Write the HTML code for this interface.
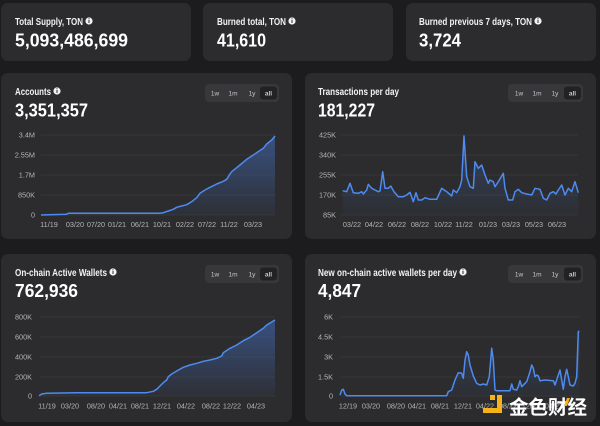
<!DOCTYPE html>
<html><head><meta charset="utf-8"><style>
html,body{margin:0;padding:0;background:#1c1c1e;}
svg{display:block;}
.t{font-family:"Liberation Sans",sans-serif;font-weight:bold;fill:#f2f2f2;}
.n{font-family:"Liberation Sans",sans-serif;font-weight:bold;fill:#ffffff;}
.ax{font-family:"Liberation Sans",sans-serif;font-size:7.3px;fill:#b4b4b8;}
.b{font-family:"Liberation Sans",sans-serif;font-size:6.5px;fill:#c8c8cc;text-anchor:middle;}
.g{stroke:#3a3a3e;stroke-width:0.7;}
.ln{fill:none;stroke:#4d8bf0;stroke-width:1.5;stroke-linejoin:round;}
</style></head><body>
<svg width="600" height="426" viewBox="0 0 600 426" xmlns="http://www.w3.org/2000/svg">
<defs>
<linearGradient id="fa" x1="0" y1="0" x2="0" y2="1">
<stop offset="0" stop-color="#3d5d9a" stop-opacity="0.75"/>
<stop offset="1" stop-color="#3d5d9a" stop-opacity="0.08"/>
</linearGradient>
<linearGradient id="fb" x1="0" y1="0" x2="0" y2="1">
<stop offset="0" stop-color="#3d5d9a" stop-opacity="0.45"/>
<stop offset="1" stop-color="#3d5d9a" stop-opacity="0.05"/>
</linearGradient>
</defs>
<rect width="600" height="426" fill="#1c1c1e"/>

<!-- top cards -->
<rect x="1" y="3" width="190" height="58" rx="7" fill="#2c2c2e"/>
<rect x="203" y="3" width="190" height="58" rx="7" fill="#2c2c2e"/>
<rect x="406" y="3" width="190" height="58" rx="7" fill="#2c2c2e"/>

<text class="t" x="15" y="24.8" font-size="10.5" textLength="68" lengthAdjust="spacingAndGlyphs">Total Supply, TON</text>
<circle cx="89" cy="21" r="3.6" fill="#f2f2f2"/><rect x="88.5" y="20" width="1" height="3" fill="#2c2c2e"/><rect x="88.5" y="18.3" width="1" height="1" fill="#2c2c2e"/>
<text class="n" x="15" y="46.5" font-size="18" textLength="113" lengthAdjust="spacingAndGlyphs">5,093,486,699</text>

<text class="t" x="217" y="24.8" font-size="10.5" textLength="69" lengthAdjust="spacingAndGlyphs">Burned total, TON</text>
<circle cx="292" cy="21" r="3.6" fill="#f2f2f2"/><rect x="291.5" y="20" width="1" height="3" fill="#2c2c2e"/><rect x="291.5" y="18.3" width="1" height="1" fill="#2c2c2e"/>
<text class="n" x="217" y="46.5" font-size="18" textLength="49" lengthAdjust="spacingAndGlyphs">41,610</text>

<text class="t" x="419" y="24.8" font-size="10.5" textLength="113" lengthAdjust="spacingAndGlyphs">Burned previous 7 days, TON</text>
<circle cx="538" cy="21" r="3.6" fill="#f2f2f2"/><rect x="537.5" y="20" width="1" height="3" fill="#2c2c2e"/><rect x="537.5" y="18.3" width="1" height="1" fill="#2c2c2e"/>
<text class="n" x="419" y="46.5" font-size="18" textLength="42" lengthAdjust="spacingAndGlyphs">3,724</text>

<!-- middle cards -->
<rect x="1" y="73" width="291" height="166" rx="7" fill="#2c2c2e"/>
<rect x="305" y="73" width="291" height="166" rx="7" fill="#2c2c2e"/>
<!-- bottom cards -->
<rect x="1" y="254" width="291" height="168" rx="7" fill="#2c2c2e"/>
<rect x="305" y="254" width="291" height="168" rx="7" fill="#2c2c2e"/>

<!-- Accounts -->
<text class="t" x="15" y="94.8" font-size="10.5" textLength="36" lengthAdjust="spacingAndGlyphs">Accounts</text>
<circle cx="57" cy="91" r="3.6" fill="#f2f2f2"/><rect x="56.5" y="90" width="1" height="3" fill="#2c2c2e"/><rect x="56.5" y="88.3" width="1" height="1" fill="#2c2c2e"/>
<text class="n" x="15" y="116.5" font-size="18" textLength="73" lengthAdjust="spacingAndGlyphs">3,351,357</text>
<rect x="205" y="84" width="74" height="18" rx="4" fill="#38383b"/>
<rect x="260" y="86.5" width="17" height="13" rx="3" fill="#222224"/>
<text class="b" x="215" y="95.5">1w</text><text class="b" x="233" y="95.5">1m</text><text class="b" x="252" y="95.5">1y</text><text class="b" x="268.5" y="95.5" fill="#fff" font-weight="bold">all</text>

<line class="g" x1="41" y1="135" x2="275" y2="135"/>
<line class="g" x1="41" y1="155" x2="275" y2="155"/>
<line class="g" x1="41" y1="175" x2="275" y2="175"/>
<line class="g" x1="41" y1="195" x2="275" y2="195"/>
<line class="g" x1="41" y1="215" x2="275" y2="215"/>
<g class="ax" text-anchor="end">
<text x="35" y="137.5">3.4M</text><text x="35" y="157.5">2.55M</text><text x="35" y="177.5">1.7M</text><text x="35" y="197.5">850K</text><text x="35" y="217.5">0</text>
</g>
<g class="ax" text-anchor="middle">
<text x="49" y="227">11/19</text><text x="75" y="227">03/20</text><text x="96" y="227">07/20</text><text x="117" y="227">01/21</text><text x="140" y="227">06/21</text><text x="162" y="227">10/21</text><text x="185" y="227">02/22</text><text x="207" y="227">07/22</text><text x="229" y="227">11/22</text><text x="253" y="227">03/23</text>
</g>
<path fill="url(#fa)" d="M41,215 L66.7,214.3 L68.3,213.3 L160,213.3 L163.3,212.7 L168.3,211 L173.3,209.3 L176.7,207.3 L181.7,206 L186.7,204.7 L191.7,201.7 L196.7,197.7 L200,193.3 L205,190 L210,187.3 L216.7,184 L223.3,181.3 L226.7,179.3 L229.3,175 L231.7,171.7 L240,165 L246.7,159.3 L253.3,155 L263.3,148.3 L266.7,144 L271.7,140 L275,136 L275,215 Z"/>
<path class="ln" d="M41,215 L66.7,214.3 L68.3,213.3 L160,213.3 L163.3,212.7 L168.3,211 L173.3,209.3 L176.7,207.3 L181.7,206 L186.7,204.7 L191.7,201.7 L196.7,197.7 L200,193.3 L205,190 L210,187.3 L216.7,184 L223.3,181.3 L226.7,179.3 L229.3,175 L231.7,171.7 L240,165 L246.7,159.3 L253.3,155 L263.3,148.3 L266.7,144 L271.7,140 L275,136"/>

<!-- Transactions -->
<text class="t" x="318" y="94.8" font-size="10.5" textLength="81" lengthAdjust="spacingAndGlyphs">Transactions per day</text>
<text class="n" x="318" y="116.5" font-size="18" textLength="57" lengthAdjust="spacingAndGlyphs">181,227</text>
<rect x="508" y="84" width="75" height="18" rx="4" fill="#38383b"/>
<rect x="564" y="86.5" width="17" height="13" rx="3" fill="#222224"/>
<text class="b" x="519" y="95.5">1w</text><text class="b" x="537" y="95.5">1m</text><text class="b" x="555" y="95.5">1y</text><text class="b" x="572.5" y="95.5" fill="#fff" font-weight="bold">all</text>

<line class="g" x1="341" y1="135" x2="578" y2="135"/>
<line class="g" x1="341" y1="155" x2="578" y2="155"/>
<line class="g" x1="341" y1="175" x2="578" y2="175"/>
<line class="g" x1="341" y1="195" x2="578" y2="195"/>
<line class="g" x1="341" y1="215" x2="578" y2="215"/>
<g class="ax" text-anchor="end">
<text x="336" y="137.5">425K</text><text x="336" y="157.5">340K</text><text x="336" y="177.5">255K</text><text x="336" y="197.5">170K</text><text x="336" y="217.5">85K</text>
</g>
<g class="ax" text-anchor="middle">
<text x="352" y="227">03/22</text><text x="374" y="227">04/22</text><text x="397" y="227">06/22</text><text x="420" y="227">08/22</text><text x="443" y="227">10/22</text><text x="464" y="227">11/22</text><text x="488" y="227">01/23</text><text x="511" y="227">03/23</text><text x="534" y="227">05/23</text><text x="557" y="227">06/23</text>
</g>
<path fill="url(#fb)" d="M342.7,190.7 L346.7,191.7 L350,183.3 L353.3,192.7 L358.3,193.3 L361.7,191.7 L363.3,194 L366.7,190 L368.3,184.3 L371.7,188.3 L375,190 L378.3,191.7 L380,191 L382.7,171.7 L385,188.3 L388.3,188.3 L390.7,186 L394,191.7 L398.3,196.7 L403.3,196.7 L406.7,195 L410,192.3 L413.3,201.7 L416,192.7 L418.3,200 L421.7,200 L425,197.7 L430,199.3 L436.7,199.3 L441.7,188.3 L446.7,191.7 L451.7,196 L453.3,190 L456.7,192.7 L460,186.7 L461.7,180 L464,136 L466.7,176.7 L470,186.7 L473.3,188.3 L475,161.7 L478.3,168.3 L481.7,165 L485,175 L488.3,183.3 L490,180 L493.3,181.7 L495,186.7 L498.3,181.7 L503.3,173.3 L505,188.3 L508.3,200 L512.7,200 L515,191.7 L518.3,189.3 L521.7,192.7 L526.7,194 L531.7,195 L535,188.3 L540,189.3 L543.3,198.3 L546.7,200 L550,193.3 L553.3,191.7 L556,194 L558.3,190 L561.7,185 L565,195 L568.3,188.3 L571.7,191.7 L575,181.7 L578.3,192.7 L578.3,215 L342.7,215 Z"/>
<path class="ln" d="M342.7,190.7 L346.7,191.7 L350,183.3 L353.3,192.7 L358.3,193.3 L361.7,191.7 L363.3,194 L366.7,190 L368.3,184.3 L371.7,188.3 L375,190 L378.3,191.7 L380,191 L382.7,171.7 L385,188.3 L388.3,188.3 L390.7,186 L394,191.7 L398.3,196.7 L403.3,196.7 L406.7,195 L410,192.3 L413.3,201.7 L416,192.7 L418.3,200 L421.7,200 L425,197.7 L430,199.3 L436.7,199.3 L441.7,188.3 L446.7,191.7 L451.7,196 L453.3,190 L456.7,192.7 L460,186.7 L461.7,180 L464,136 L466.7,176.7 L470,186.7 L473.3,188.3 L475,161.7 L478.3,168.3 L481.7,165 L485,175 L488.3,183.3 L490,180 L493.3,181.7 L495,186.7 L498.3,181.7 L503.3,173.3 L505,188.3 L508.3,200 L512.7,200 L515,191.7 L518.3,189.3 L521.7,192.7 L526.7,194 L531.7,195 L535,188.3 L540,189.3 L543.3,198.3 L546.7,200 L550,193.3 L553.3,191.7 L556,194 L558.3,190 L561.7,185 L565,195 L568.3,188.3 L571.7,191.7 L575,181.7 L578.3,192.7"/>

<!-- On-chain Active Wallets -->
<text class="t" x="15" y="275.8" font-size="10.5" textLength="92" lengthAdjust="spacingAndGlyphs">On-chain Active Wallets</text>
<circle cx="113" cy="272" r="3.6" fill="#f2f2f2"/><rect x="112.5" y="271" width="1" height="3" fill="#2c2c2e"/><rect x="112.5" y="269.3" width="1" height="1" fill="#2c2c2e"/>
<text class="n" x="15" y="297" font-size="18" textLength="63" lengthAdjust="spacingAndGlyphs">762,936</text>
<rect x="205" y="265" width="74" height="18" rx="4" fill="#38383b"/>
<rect x="260" y="267.5" width="17" height="13" rx="3" fill="#222224"/>
<text class="b" x="215" y="276.5">1w</text><text class="b" x="233" y="276.5">1m</text><text class="b" x="252" y="276.5">1y</text><text class="b" x="268.5" y="276.5" fill="#fff" font-weight="bold">all</text>

<line class="g" x1="39" y1="317" x2="275" y2="317"/>
<line class="g" x1="39" y1="337" x2="275" y2="337"/>
<line class="g" x1="39" y1="357" x2="275" y2="357"/>
<line class="g" x1="39" y1="377" x2="275" y2="377"/>
<line class="g" x1="39" y1="396" x2="275" y2="396"/>
<g class="ax" text-anchor="end">
<text x="32" y="319.5">800K</text><text x="32" y="339.5">600K</text><text x="32" y="359.5">400K</text><text x="32" y="379.5">200K</text><text x="32" y="398.5">0</text>
</g>
<g class="ax" text-anchor="middle">
<text x="47" y="408.5">11/19</text><text x="70" y="408.5">03/20</text><text x="96" y="408.5">08/20</text><text x="118" y="408.5">04/21</text><text x="140" y="408.5">08/21</text><text x="162" y="408.5">12/21</text><text x="186" y="408.5">04/22</text><text x="211" y="408.5">08/22</text><text x="232" y="408.5">12/22</text><text x="256" y="408.5">04/23</text>
</g>
<path fill="url(#fa)" d="M39,395.7 L41.7,394 L46.7,393.3 L76.7,392.7 L146.7,392.7 L153.3,391.3 L156.7,389.3 L160,386 L163.3,382.7 L166.7,380 L168.3,376.7 L171.7,374 L176.7,371 L183.3,367.3 L190,365 L196.7,363.3 L203.3,361.3 L210,360 L216.7,358.3 L221.7,356 L223.3,352.7 L230,348.3 L236.7,345 L243.3,340.7 L250,337.3 L256.7,332.7 L263.3,328.3 L266.7,325 L275,320 L275,396 L39,396 Z"/>
<path class="ln" d="M39,395.7 L41.7,394 L46.7,393.3 L76.7,392.7 L146.7,392.7 L153.3,391.3 L156.7,389.3 L160,386 L163.3,382.7 L166.7,380 L168.3,376.7 L171.7,374 L176.7,371 L183.3,367.3 L190,365 L196.7,363.3 L203.3,361.3 L210,360 L216.7,358.3 L221.7,356 L223.3,352.7 L230,348.3 L236.7,345 L243.3,340.7 L250,337.3 L256.7,332.7 L263.3,328.3 L266.7,325 L275,320"/>

<!-- New on-chain active wallets per day -->
<text class="t" x="318" y="275.8" font-size="10.5" textLength="139" lengthAdjust="spacingAndGlyphs">New on-chain active wallets per day</text>
<circle cx="463" cy="272" r="3.6" fill="#f2f2f2"/><rect x="462.5" y="271" width="1" height="3" fill="#2c2c2e"/><rect x="462.5" y="269.3" width="1" height="1" fill="#2c2c2e"/>
<text class="n" x="318" y="297" font-size="18" textLength="43" lengthAdjust="spacingAndGlyphs">4,847</text>
<rect x="508" y="265" width="75" height="18" rx="4" fill="#38383b"/>
<rect x="564" y="267.5" width="17" height="13" rx="3" fill="#222224"/>
<text class="b" x="519" y="276.5">1w</text><text class="b" x="537" y="276.5">1m</text><text class="b" x="555" y="276.5">1y</text><text class="b" x="572.5" y="276.5" fill="#fff" font-weight="bold">all</text>

<line class="g" x1="340" y1="317" x2="579" y2="317"/>
<line class="g" x1="340" y1="337" x2="579" y2="337"/>
<line class="g" x1="340" y1="357" x2="579" y2="357"/>
<line class="g" x1="340" y1="377" x2="579" y2="377"/>
<line class="g" x1="340" y1="396" x2="579" y2="396"/>
<g class="ax" text-anchor="end">
<text x="333" y="319.5">6K</text><text x="333" y="339.5">4.5K</text><text x="333" y="359.5">3K</text><text x="333" y="379.5">1.5K</text><text x="333" y="398.5">0</text>
</g>
<g class="ax" text-anchor="middle">
<text x="348" y="408.5">12/19</text><text x="371" y="408.5">03/20</text><text x="396" y="408.5">08/20</text><text x="417" y="408.5">04/21</text><text x="440" y="408.5">08/21</text><text x="463" y="408.5">12/21</text><text x="485" y="408.5">04/22</text><text x="508" y="408.5">08/22</text><text x="531" y="408.5">12/22</text><text x="554" y="408.5">04/23</text>
</g>
<path fill="url(#fb)" d="M340,395 L341.7,390 L343.3,389.3 L345,394 L346.7,395.7 L446.7,395.7 L448.3,391.7 L451.7,390 L455,380 L458.3,372.7 L461.7,373.3 L463.3,378.3 L465,360 L466.7,351.7 L468.3,355 L470,365 L473.3,376 L476.7,383.3 L480,385 L483.3,384 L486.7,385 L489.3,376.7 L491.7,348.3 L493.3,360 L495,390 L496.7,390.7 L510,390.7 L511.7,384 L513.3,389.3 L516.7,390 L518.3,386.7 L520,380.7 L521.7,386.7 L525,383.3 L526.7,381.7 L530,371.7 L531.7,365 L533.3,368.3 L535,376.7 L536.7,375 L538.3,376 L540,380.7 L545,380 L553.3,380.7 L555,385 L558.3,375 L560,370 L561.7,380 L563.3,389.3 L565,376.7 L566.7,369.3 L568.3,376.7 L570,385 L573.3,386 L575,383.3 L576.7,376.7 L578.3,331.7 L579.3,331 L579.3,396 L340,396 Z"/>
<path class="ln" d="M340,395 L341.7,390 L343.3,389.3 L345,394 L346.7,395.7 L446.7,395.7 L448.3,391.7 L451.7,390 L455,380 L458.3,372.7 L461.7,373.3 L463.3,378.3 L465,360 L466.7,351.7 L468.3,355 L470,365 L473.3,376 L476.7,383.3 L480,385 L483.3,384 L486.7,385 L489.3,376.7 L491.7,348.3 L493.3,360 L495,390 L496.7,390.7 L510,390.7 L511.7,384 L513.3,389.3 L516.7,390 L518.3,386.7 L520,380.7 L521.7,386.7 L525,383.3 L526.7,381.7 L530,371.7 L531.7,365 L533.3,368.3 L535,376.7 L536.7,375 L538.3,376 L540,380.7 L545,380 L553.3,380.7 L555,385 L558.3,375 L560,370 L561.7,380 L563.3,389.3 L565,376.7 L566.7,369.3 L568.3,376.7 L570,385 L573.3,386 L575,383.3 L576.7,376.7 L578.3,331.7 L579.3,331"/>

<!-- watermark -->
<rect x="490" y="395" width="5" height="5" fill="#f5b21b"/>
<rect x="497" y="395" width="5" height="18" fill="#f5b21b"/>
<rect x="483" y="408" width="19" height="5" fill="#f5b21b"/>
<text x="509" y="414" font-family="'Liberation Sans','Noto Sans CJK SC',sans-serif" font-size="19.5" font-weight="bold" fill="#ffffff" textLength="78" lengthAdjust="spacingAndGlyphs">金色财经</text>
<polygon points="567,398 570,398 567,406 564,406" fill="#f5b21b"/>
</svg>
</body></html>
